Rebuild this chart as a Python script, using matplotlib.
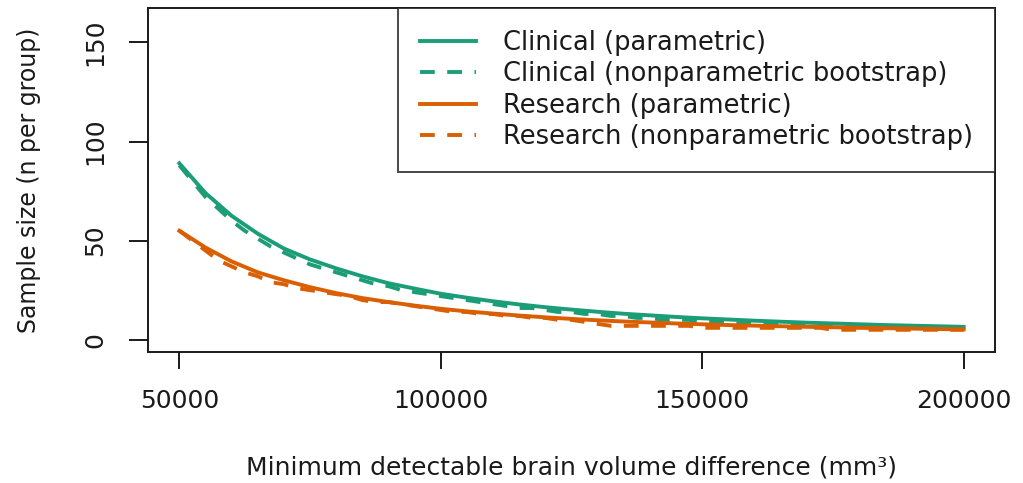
import numpy as np
import matplotlib
matplotlib.use("Agg")
import matplotlib.pyplot as plt

# ---- data ----
d_param = [50000, 55000, 60000, 65000, 70000, 75000, 80000, 85000, 90000, 95000,
           100000, 105000, 110000, 115000, 120000, 125000, 130000, 135000, 140000,
           145000, 150000, 155000, 160000, 165000, 170000, 175000, 180000, 185000,
           190000, 195000, 200000]
clinical_param = [89, 74, 62.5, 53.5, 46, 40.5, 36, 32, 28.5, 25.8, 23.2, 21.2, 19.4,
                  17.8, 16.4, 15.2, 14.1, 13.1, 12.3, 11.5, 10.8, 10.2, 9.6, 9.1, 8.6,
                  8.2, 7.8, 7.4, 7.1, 6.8, 6.5]
research_param = [55, 46.5, 39.5, 34, 30, 26.5, 23.5, 21, 19, 17.2, 15.6, 14.3, 13.2,
                  12.2, 11.3, 10.5, 9.8, 9.2, 8.7, 8.2, 7.8, 7.4, 7.1, 6.8, 6.5, 6.3,
                  6.0, 5.8, 5.6, 5.4, 5.2]

d_boot = list(range(50000, 200001, 2500))
clinical_boot = [88, 80, 72, 66, 60, 55, 51, 47, 44, 41, 38, 36, 34, 32, 30, 28, 27, 25,
                 24, 23, 22, 21, 20, 19, 18, 17, 16, 16, 15, 14, 14, 13, 13, 12, 12, 11,
                 11, 10, 10, 10, 9, 9, 9, 8, 8, 8, 8, 7, 7, 7, 7, 7, 7, 6, 6, 6, 6, 6,
                 6, 6, 6]
research_boot = [55, 50, 45, 40, 37, 34, 32, 29, 28, 26, 25, 24, 23, 22, 20, 19, 19, 18,
                 17, 16, 15, 14, 14, 13, 13, 12, 12, 11, 11, 10, 10, 9, 8, 7, 7, 7, 7,
                 7, 7, 7, 6, 6, 6, 6, 6, 6, 6, 6, 6, 6, 5, 5, 5, 5, 5, 5, 5, 5, 5, 5, 5]

labels = ["Clinical (parametric)", "Clinical (nonparametric bootstrap)",
          "Research (parametric)", "Research (nonparametric bootstrap)"]
x_ticks = [50000, 100000, 150000, 200000]
y_ticks = [0, 50, 100, 150]

green = "#1B9E77"
orange = "#D95F02"
ink = "#1a1a1a"

plt.rcParams['font.family'] = ['DejaVu Sans']
fs = 18

fig = plt.figure(figsize=(10.23, 4.83), dpi=100)
ax = fig.add_axes([148 / 1023, (483 - 352) / 483, (995 - 148) / 1023, (352 - 8) / 483])

lw = 2.8
dash = (0, (3.8, 3.2))
ax.plot(d_param, clinical_param, color=green, lw=lw, label=labels[0])
ax.plot(d_boot, clinical_boot, color=green, lw=lw, ls=dash, label=labels[1])
ax.plot(d_param, research_param, color=orange, lw=lw, label=labels[2])
ax.plot(d_boot, research_boot, color=orange, lw=lw, ls=dash, label=labels[3])

ax.set_xlim(44000, 206000)
ax.set_ylim(-6.2, 167.4)
ax.set_xticks(x_ticks)
ax.set_xticklabels([str(v) for v in x_ticks])
ax.set_yticks(y_ticks)
ax.set_yticklabels([str(v) for v in y_ticks])

for s in ax.spines.values():
    s.set_linewidth(1.4)
    s.set_color(ink)

ax.tick_params(axis='x', length=12, width=1.4, color=ink, labelsize=fs,
               labelcolor=ink, pad=15)
ax.tick_params(axis='y', length=13.5, width=1.4, color=ink, labelsize=fs,
               labelcolor=ink, pad=16, labelrotation=90)
for t in ax.get_yticklabels():
    t.set_va('center')

ax.set_xlabel("Minimum detectable brain volume difference (mm³)", fontsize=fs,
              color=ink, labelpad=30)
ax.set_ylabel("Sample size (n per group)", fontsize=17, color=ink, labelpad=30)

leg = ax.legend(loc='upper right', bbox_to_anchor=(1.0, 1.0), borderaxespad=0,
                fontsize=18.5, frameon=True, fancybox=False, handlelength=2.2,
                handletextpad=1.05, borderpad=0.85, labelspacing=0.215)
leg.get_frame().set_edgecolor(ink)
leg.get_frame().set_linewidth(1.4)
for t in leg.get_texts():
    t.set_color(ink)

fig.savefig("out.png", dpi=100)
